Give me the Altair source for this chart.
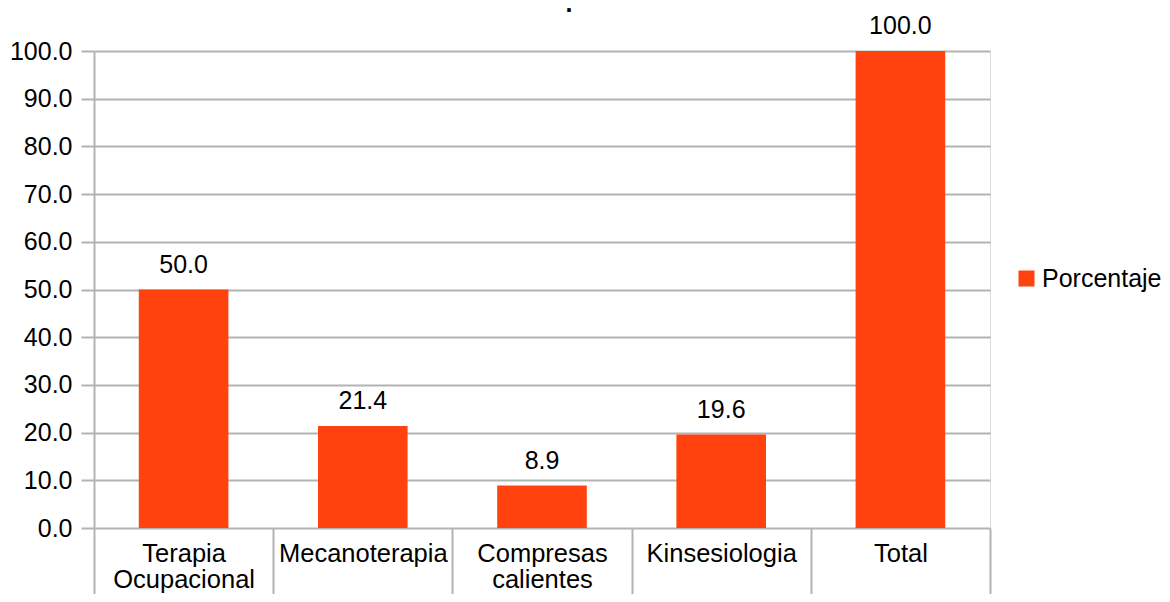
import altair as alt
import pandas as pd

categories = ["Terapia Ocupacional", "Mecanoterapia", "Compresas calientes", "Kinsesiologia", "Total"]
values = [50.0, 21.4, 8.9, 19.6, 100.0]
series_name = "Porcentaje"
y_ticks = [0, 10, 20, 30, 40, 50, 60, 70, 80, 90, 100]

df = pd.DataFrame({"categoria": categories, "valor": values, "serie": [series_name] * len(categories)})

FONT = "Liberation Sans"
GRID = "#b3b3b3"
BAR = "#FF420E"

x_enc = alt.X(
    "categoria:N",
    sort=categories,
    scale=alt.Scale(paddingInner=0, paddingOuter=0),
    axis=alt.Axis(
        title=None,
        domain=False,
        labelAngle=0,
        labelFont=FONT,
        labelFontSize=25.5,
        labelColor="#000000",
        labelExpr="split(datum.label, ' ')",
        labelLineHeight=26,
        labelPadding=-53,
        tickBand="extent",
        tickSize=66,
        tickColor=GRID,
        tickWidth=2,
        grid=False,
    ),
)

y_enc = alt.Y(
    "valor:Q",
    scale=alt.Scale(domain=[0, 100], nice=False),
    axis=alt.Axis(
        title=None,
        values=y_ticks,
        format=".1f",
        labelFont=FONT,
        labelFontSize=25,
        labelColor="#000000",
        labelPadding=9,
        tickSize=13,
        tickColor=GRID,
        tickWidth=2,
        domainColor=GRID,
        domainWidth=2,
        gridColor=GRID,
        gridWidth=2,
    ),
)

bars = alt.Chart(df).mark_bar(width=alt.RelativeBandSize(0.5)).encode(
    x=x_enc,
    y=y_enc,
    color=alt.Color(
        "serie:N",
        scale=alt.Scale(domain=[series_name], range=[BAR]),
        legend=alt.Legend(
            title=None,
            orient="none",
            legendX=920,
            legendY=215,
            symbolType="square",
            symbolSize=256,
            symbolStrokeWidth=0,
            labelFont=FONT,
            labelFontSize=25,
            labelColor="#000000",
            labelOffset=3,
        ),
    ),
)

labels = alt.Chart(df).mark_text(
    font=FONT, fontSize=25, color="#000000", baseline="alphabetic", dy=-17
).encode(
    x=alt.X("categoria:N", sort=categories),
    y="valor:Q",
    text=alt.Text("valor:Q", format=".1f"),
)

chart = (
    alt.layer(bars, labels)
    .properties(
        width=896,
        height=477,
        autosize="none",
        padding={"left": 86, "top": 43, "right": 172, "bottom": 66},
        title=alt.Title(".", font=FONT, fontSize=25, color="#000000", anchor="middle", dx=27, dy=7),
    )
    .configure_view(stroke=GRID, strokeWidth=2)
    .configure(font=FONT)
)

chart.save("out.html", embed_options={"renderer": "svg", "actions": False})
